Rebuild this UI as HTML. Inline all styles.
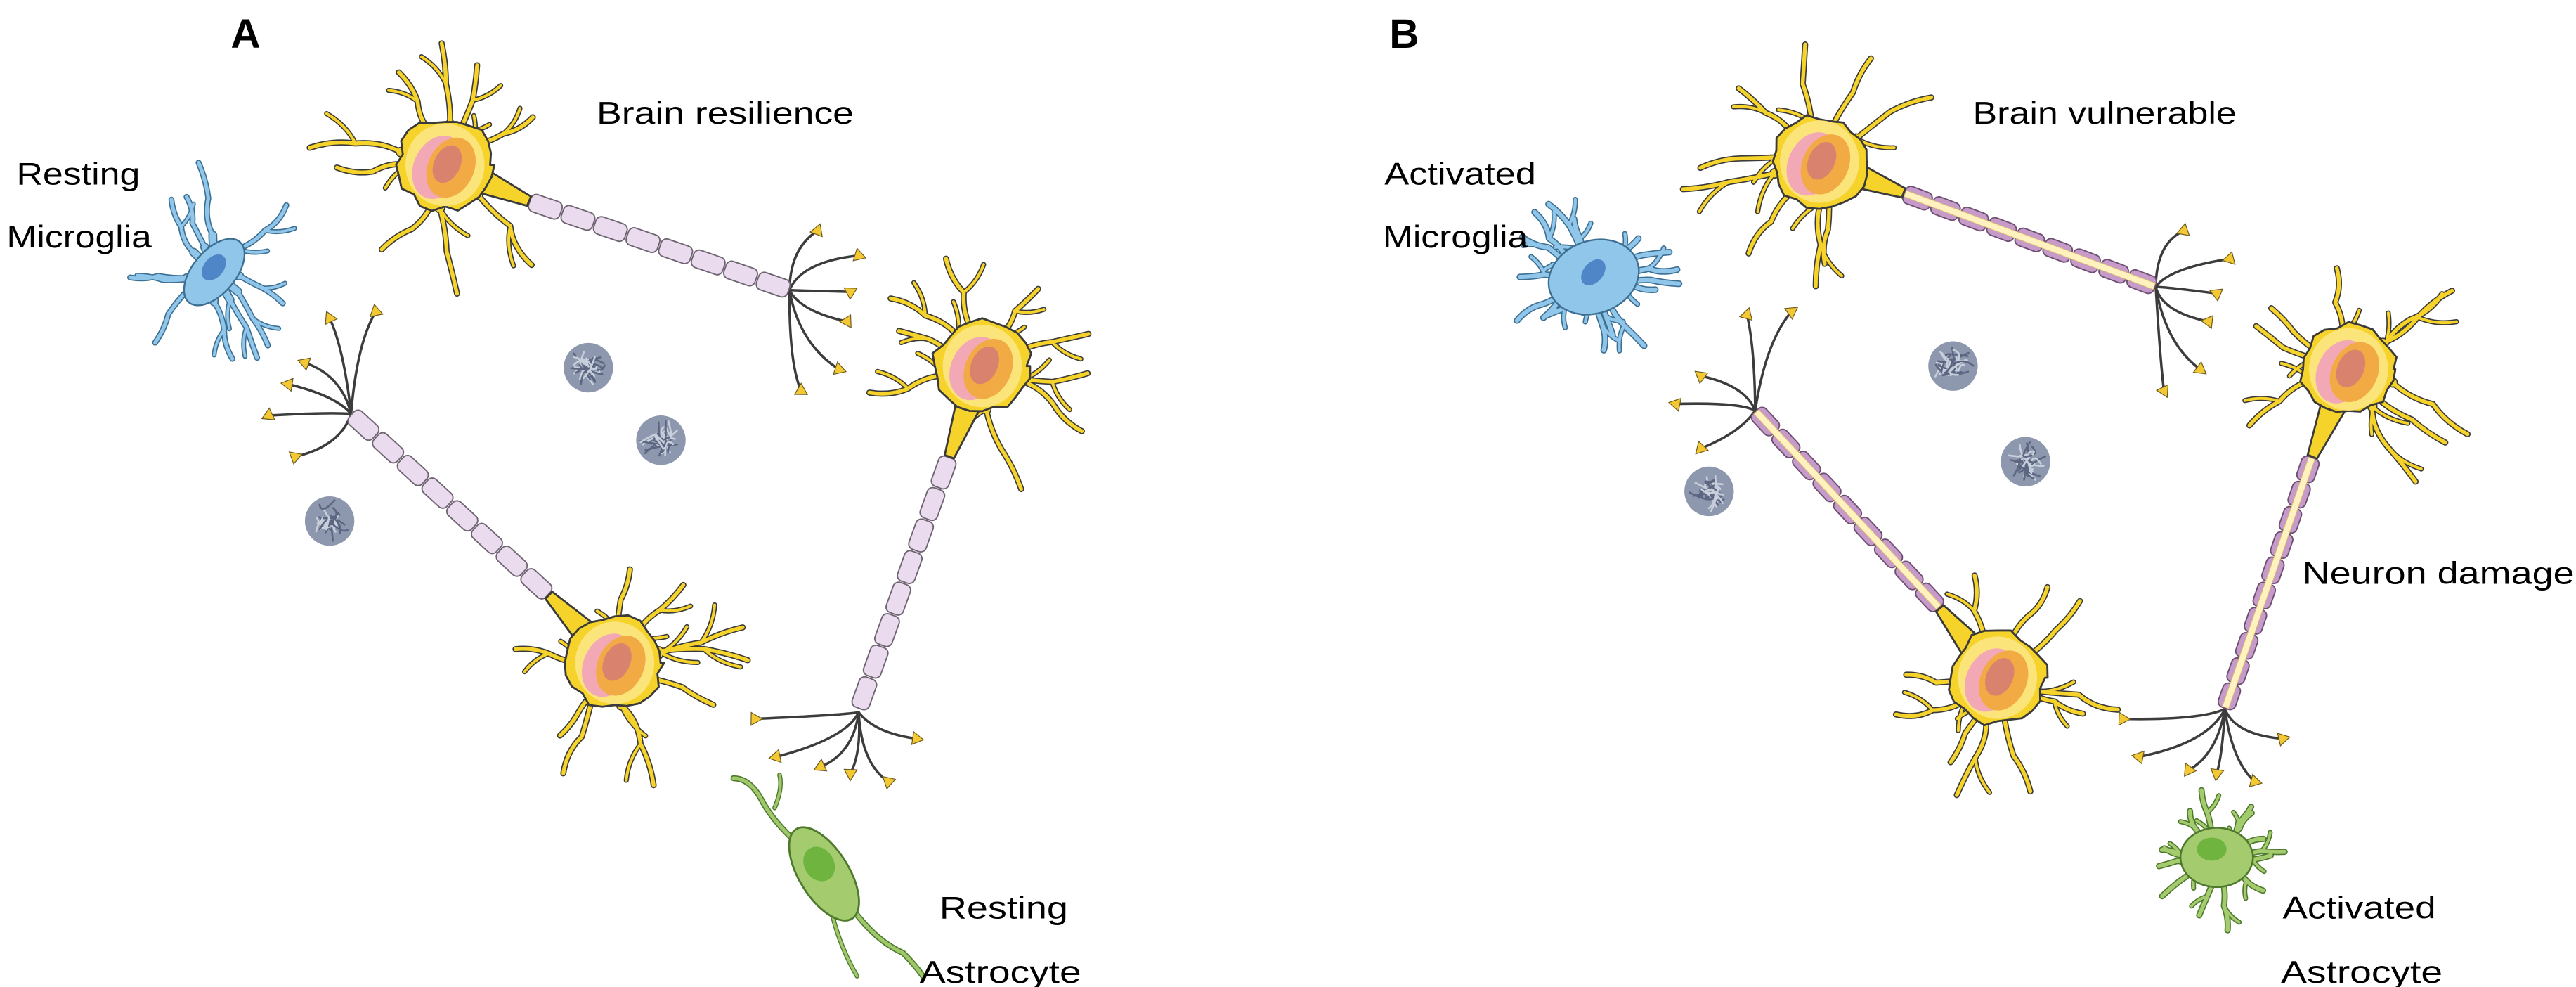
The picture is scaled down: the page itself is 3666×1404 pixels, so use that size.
<!DOCTYPE html>
<html><head><meta charset="utf-8">
<style>
html,body{margin:0;padding:0;background:#fff;}
svg{display:block;}
text{font-family:"Liberation Sans",Arial,sans-serif;fill:#000;}
</style></head>
<body>
<svg id="s" xmlns="http://www.w3.org/2000/svg" width="3666" height="1404" viewBox="0 0 1563 598.6">
<g id="g"></g>
<g font-size="19">
<text x="140" y="29" font-size="25" font-weight="bold" textLength="18">A</text>
<text x="843" y="29" font-size="25" font-weight="bold" textLength="17">B</text>
<text x="362" y="75" textLength="156" lengthAdjust="spacingAndGlyphs">Brain resilience</text>
<text x="10" y="112" textLength="75" lengthAdjust="spacingAndGlyphs">Resting</text>
<text x="4" y="150" textLength="88" lengthAdjust="spacingAndGlyphs">Microglia</text>
<text x="570" y="557" textLength="78" lengthAdjust="spacingAndGlyphs">Resting</text>
<text x="558" y="596" textLength="98" lengthAdjust="spacingAndGlyphs">Astrocyte</text>
<text x="1197" y="75" textLength="160" lengthAdjust="spacingAndGlyphs">Brain vulnerable</text>
<text x="840" y="112" textLength="92" lengthAdjust="spacingAndGlyphs">Activated</text>
<text x="839" y="150" textLength="88" lengthAdjust="spacingAndGlyphs">Microglia</text>
<text x="1397" y="354" textLength="165" lengthAdjust="spacingAndGlyphs">Neuron damage</text>
<text x="1385" y="557" textLength="93" lengthAdjust="spacingAndGlyphs">Activated</text>
<text x="1384" y="596" textLength="98" lengthAdjust="spacingAndGlyphs">Astrocyte</text>
</g>
</svg>
<script>
(function(){
var g=document.getElementById('g'),out='';
var seed=7;function r(){seed=(seed*16807)%2147483647;return seed/2147483647;}
function P(d,st,w,f){out+='<path d="'+d+'" stroke="'+st+'" stroke-width="'+w+'" fill="'+(f||'none')+'" stroke-linecap="round" stroke-linejoin="round"/>';}
function f1(v){return v.toFixed(1);}
function branchPaths(cx,cy,ang,len,wig){
  var ps=[],pts=[[cx,cy]];var x=cx,y=cy,a=ang,d='M'+f1(x)+' '+f1(y);
  var n=3;for(var i=0;i<n;i++){var l=len/n;a+=(r()-0.5)*wig;var ca=a+(r()-0.5)*0.8;var mx=x+Math.cos(ca)*l*0.5,my=y+Math.sin(ca)*l*0.5;x+=Math.cos(a)*l;y+=Math.sin(a)*l;d+=' Q'+f1(mx)+' '+f1(my)+' '+f1(x)+' '+f1(y);pts.push([x,y]);
   if(i<2&&r()<0.55){var ba=a+(r()<0.5?-1:1)*(0.5+r()*0.5);var bl=len*0.3;ps.push('M'+f1(x)+' '+f1(y)+' Q'+f1(x+Math.cos(ba+0.3)*bl*0.5)+' '+f1(y+Math.sin(ba+0.3)*bl*0.5)+' '+f1(x+Math.cos(ba)*bl)+' '+f1(y+Math.sin(ba)*bl));}}
  ps.unshift(d);return {ps:ps,pts:pts};}
function processes(cx,cy,n,lmin,lmax,skip,dark,col,w0,w1,wig,base){
  var all=[];for(var i=0;i<n;i++){var a=i/n*Math.PI*2+(r()-0.5)*0.4;if(skip!==null){var dd=Math.abs(Math.atan2(Math.sin(a-skip),Math.cos(a-skip)));if(dd<0.4)continue;}
  all.push(branchPaths(cx,cy,a,lmin+r()*(lmax-lmin),wig));}
  all.forEach(function(b){b.ps.forEach(function(d,k){P(d,dark,(k?w1:w0)+1.4);});
    if(base){var p=b.pts;P('M'+f1(p[0][0])+' '+f1(p[0][1])+' L'+f1(p[1][0])+' '+f1(p[1][1]),dark,base+1.4);}});
  all.forEach(function(b){b.ps.forEach(function(d,k){P(d,col,(k?w1:w0));});
    if(base){var p=b.pts;P('M'+f1(p[0][0])+' '+f1(p[0][1])+' L'+f1(p[1][0])+' '+f1(p[1][1]),col,base);}});
}
function connector(cx,cy,ax,ay){
  var a=Math.atan2(ay-cy,ax-cx),nx=-Math.sin(a),ny=Math.cos(a);
  var pts=[[cx+nx*11,cy+ny*11],[ax+nx*3,ay+ny*3],[ax-nx*3,ay-ny*3],[cx-nx*11,cy-ny*11]];
  out+='<polygon points="'+pts.map(function(q){return f1(q[0])+','+f1(q[1])}).join(' ')+'" fill="#f6d32a" stroke="#3a3a3a" stroke-width="1.2"/>';
}
function neuron(cx,cy,ax,ay){
  var axAng=Math.atan2(ay-cy,ax-cx);
  processes(cx,cy,11,55,85,axAng,'#3a3a3a','#f6d32a',2.3,1.7,0.7,5);
  connector(cx,cy,ax,ay);
  var blob='';for(var i=0;i<=24;i++){var a=i/24*Math.PI*2;var rr=29+(r()-0.5)*5;blob+=(i?'L':'M')+f1(cx+Math.cos(a)*rr)+' '+f1(cy+Math.sin(a)*rr*0.95)+' ';}
  P(blob+'Z','#3a3a3a',1.2,'#f6d32a');
  out+='<ellipse cx="'+cx+'" cy="'+cy+'" rx="24" ry="25" fill="#fbe47a"/>';
  out+='<ellipse cx="'+(cx-3)+'" cy="'+(cy+3)+'" rx="15" ry="20" fill="#f2a9b5" transform="rotate(25 '+cx+' '+cy+')"/>';
  out+='<ellipse cx="'+(cx+4)+'" cy="'+cy+'" rx="14" ry="19" fill="#f2aa45" transform="rotate(25 '+cx+' '+cy+')"/>';
  out+='<ellipse cx="'+(cx+1)+'" cy="'+(cy-1)+'" rx="8" ry="12" fill="#d9826e" transform="rotate(25 '+cx+' '+cy+')"/>';
}
function axon(x1,y1,x2,y2,n,act){
  var dx=x2-x1,dy=y2-y1,L=Math.hypot(dx,dy),a=Math.atan2(dy,dx)*180/Math.PI,sl=L/n;
  out+='<g transform="translate('+x1+' '+y1+') rotate('+a.toFixed(2)+')">';
  for(var i=0;i<n;i++){out+='<rect x="'+f1(i*sl+0.5)+'" y="-5.5" width="'+f1(sl-1)+'" height="11" rx="3.5" fill="'+(act?'#c79bc9':'#eadcee')+'" stroke="'+(act?'#6e4f74':'#6f6472')+'" stroke-width="0.8"/>';}
  if(act){out+='<rect x="1" y="-2" width="'+f1(L-2)+'" height="4" fill="#fff2bf" stroke="#d8c070" stroke-width="0.4"/>';}
  out+='</g>';
}
function terminal(sx,sy,tips){
  tips.forEach(function(t){var mx=sx+(t[0]-sx)*0.2+(r()-0.5)*6,my=sy+(t[1]-sy)*0.7+(r()-0.5)*6;P('M'+sx+' '+sy+' Q'+f1(mx)+' '+f1(my)+' '+t[0]+' '+t[1],'#3c3c3c',1.5);});
  tips.forEach(function(t){var x=t[0],y=t[1];var a=r()*6.28;
   var p=[[x+Math.cos(a)*4.5,y+Math.sin(a)*4.5],[x+Math.cos(a+2.1)*4.5,y+Math.sin(a+2.1)*4.5],[x+Math.cos(a+4.2)*4.5,y+Math.sin(a+4.2)*4.5]];
   out+='<polygon points="'+p.map(function(q){return f1(q[0])+','+f1(q[1])}).join(' ')+'" fill="#f3c832" stroke="#6b5a20" stroke-width="0.5"/>';});
}
function ball(cx,cy){out+='<circle cx="'+cx+'" cy="'+cy+'" r="15" fill="#8d97ad"/>';
 for(var i=0;i<26;i++){var a=r()*6.28,b=r()*6.28,ra=r()*13,rb=r()*13;P('M'+f1(cx+Math.cos(a)*ra)+' '+f1(cy+Math.sin(a)*ra)+' Q'+f1(cx+(r()-0.5)*18)+' '+f1(cy+(r()-0.5)*18)+' '+f1(cx+Math.cos(b)*rb)+' '+f1(cy+Math.sin(b)*rb),(i%2?'#c8cfdc':'#5c6680'),1.1);}}
function microglia(cx,cy,act){
  if(act){processes(cx,cy,16,35,60,null,'#3d6f92','#8fc6ea',2.6,1.8,0.8,5);
   out+='<ellipse cx="'+cx+'" cy="'+cy+'" rx="28" ry="22" fill="#8fc6ea" stroke="#3d6f92" stroke-width="1" transform="rotate(-20 '+cx+' '+cy+')"/>';}
  else{processes(cx,cy,11,45,70,null,'#3d6f92','#8fc6ea',2.2,1.6,0.8,4);
   out+='<ellipse cx="'+cx+'" cy="'+cy+'" rx="24" ry="13" fill="#8fc6ea" stroke="#3d6f92" stroke-width="1" transform="rotate(-50 '+cx+' '+cy+')"/>';}
  out+='<ellipse cx="'+(cx+2)+'" cy="'+(cy-2)+'" rx="9" ry="6" fill="#4f86c8" transform="rotate(-50 '+cx+' '+cy+')"/>';
}
// Panel A
seed=11;
terminal(479,176,[[496,140],[521,155],[516,177],[514,195],[509,224],[486,237]]);
terminal(213,251,[[200,193],[228,189],[185,220],[175,233],[163,252],[179,277]]);
terminal(521,432,[[458,436],[471,459],[498,465],[516,469],[539,474],[556,448]]);
axon(321,122,479,176,8,false);axon(213,251,333,361,8,false);axon(576,277,521,430,8,false);
neuron(270,100,321,122);neuron(596,222,576,277);neuron(373,402,333,361);
microglia(130,165,false);
ball(357,223);ball(401,267);ball(200,316);
// resting astrocyte
P('M488 515 Q470 500 462 485 Q455 472 445 472','#4f7a2e',3.6);P('M488 515 Q470 500 462 485 Q455 472 445 472','#9fc86a',2.2);
P('M470 490 Q475 478 473 470','#4f7a2e',2.8);P('M470 490 Q475 478 473 470','#9fc86a',1.6);
P('M515 548 Q530 570 548 578 Q555 585 560 592','#4f7a2e',3.6);P('M515 548 Q530 570 548 578 Q555 585 560 592','#9fc86a',2.2);
P('M505 555 Q510 575 520 592','#4f7a2e',2.8);P('M505 555 Q510 575 520 592','#9fc86a',1.6);
out+='<ellipse cx="500" cy="530" rx="15" ry="32" fill="#a4cc6e" stroke="#4f7a2e" stroke-width="1.2" transform="rotate(-32 500 530)"/>';
out+='<ellipse cx="497" cy="524" rx="9" ry="11" fill="#6fb43e" transform="rotate(-32 497 524)"/>';
// Panel B
seed=23;
terminal(1308,174,[[1325,140],[1353,157],[1345,178],[1340,195],[1335,224],[1313,237]]);
terminal(1065,249,[[1087,189],[1060,191],[1032,228],[1017,245],[1032,272]]);
terminal(1350,430,[[1288,436],[1298,459],[1328,467],[1345,469],[1368,474],[1385,448]]);
axon(1155,117,1308,174,9,true);axon(1065,249,1177,369,9,true);axon(1403,277,1350,430,10,true);
neuron(1104,98,1155,117);neuron(1425,224,1403,277);neuron(1212,411,1177,369);
microglia(967,168,true);
ball(1185,222);ball(1229,280);ball(1037,298);
seed=5;processes(1345,520,14,30,48,null,'#4f7a2e','#a4cc6e',2.4,1.6,0.8,4);
out+='<ellipse cx="1345" cy="520" rx="22" ry="18" fill="#a4cc6e" stroke="#4f7a2e" stroke-width="1.1"/>';
out+='<ellipse cx="1342" cy="515" rx="9" ry="7" fill="#6fb43e"/>';
g.innerHTML=out;
})();
</script>
</body></html>
